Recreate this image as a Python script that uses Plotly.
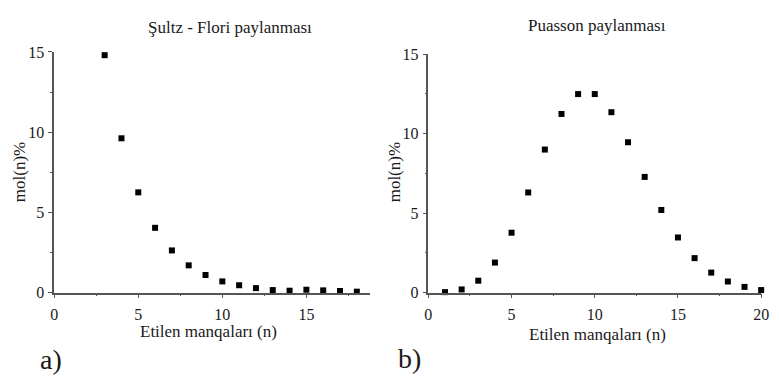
import plotly.graph_objects as go

# Schulz-Flory distribution (left panel)
n_sf = [3, 4, 5, 6, 7, 8, 9, 10, 11, 12, 13, 14, 15, 16, 17, 18]
mol_sf = [14.8, 9.62, 6.25, 4.04, 2.63, 1.70, 1.10, 0.70, 0.46, 0.28, 0.16, 0.12, 0.18, 0.14, 0.10, 0.06]

# Poisson distribution (right panel)
n_p = list(range(1, 21))
mol_p = [0.03, 0.20, 0.75, 1.89, 3.77, 6.30, 9.00, 11.24, 12.49, 12.49,
         11.35, 9.46, 7.28, 5.20, 3.47, 2.17, 1.26, 0.70, 0.36, 0.16]

titles = ["Şultz - Flori paylanması", "Puasson paylanması"]
x_title = "Etilen manqaları (n)"
y_title = "mol(n)%"
panel_labels = ["a)", "b)"]

FONT = "Liberation Serif"
AX = "#555555"
TXT = "#1a1a1a"

fig = go.Figure()
fig.add_trace(go.Scatter(x=n_sf, y=mol_sf, mode="markers", xaxis="x", yaxis="y",
                         marker=dict(symbol="square", size=6, color="black"),
                         cliponaxis=False, showlegend=False))
fig.add_trace(go.Scatter(x=n_p, y=mol_p, mode="markers", xaxis="x2", yaxis="y2",
                         marker=dict(symbol="square", size=6, color="black"),
                         cliponaxis=False, showlegend=False))

W, H = 779, 387


def px(x):
    return x / W


def py(y):
    return 1 - y / H


axis_common = dict(showline=True, linecolor=AX, linewidth=1.5, showgrid=False,
                   zeroline=False, ticks="outside", ticklen=4, tickwidth=1,
                   tickcolor=AX, tickfont=dict(family=FONT, size=16, color=TXT),
                   minor=dict(ticks="outside", ticklen=2, tickcolor=AX, dtick=2.5))

fig.update_layout(
    width=W, height=H, margin=dict(l=0, r=0, t=0, b=0),
    plot_bgcolor="white", paper_bgcolor="white",
    font=dict(family=FONT, size=17, color=TXT),
    xaxis=dict(domain=[px(51), px(372)], range=[0, 18.8], dtick=5, anchor="y",
               ticklabelstandoff=2, **axis_common),
    yaxis=dict(domain=[py(297.7), py(46)], range=[0, 15], dtick=5, anchor="x",
               ticklabelstandoff=1, **axis_common),
    xaxis2=dict(domain=[px(431), px(769)], range=[0, 20], dtick=5, anchor="y2",
                ticklabelstandoff=2, **axis_common),
    yaxis2=dict(domain=[py(297.7), py(48.3)], range=[0, 15], dtick=5, anchor="x2",
                ticklabelstandoff=1, **axis_common),
)


def label(x, y, text, size=17, angle=0):
    return dict(x=px(x), y=py(y), text=text, textangle=angle, xref="paper", yref="paper",
                showarrow=False, xanchor="center", yanchor="middle",
                font=dict(family=FONT, size=size, color=TXT))


ann = [
    label(230, 20, titles[0]),
    label(602, 18, titles[1]),
    label(208, 338, x_title),
    label(603, 341, x_title),
    label(16, 172, y_title, angle=-90),
    label(397, 172, y_title, angle=-90),
    label(48, 368, panel_labels[0], size=28),
    label(412, 367, panel_labels[1], size=28),
]
fig.update_layout(annotations=ann)

fig.write_html("out.html")
